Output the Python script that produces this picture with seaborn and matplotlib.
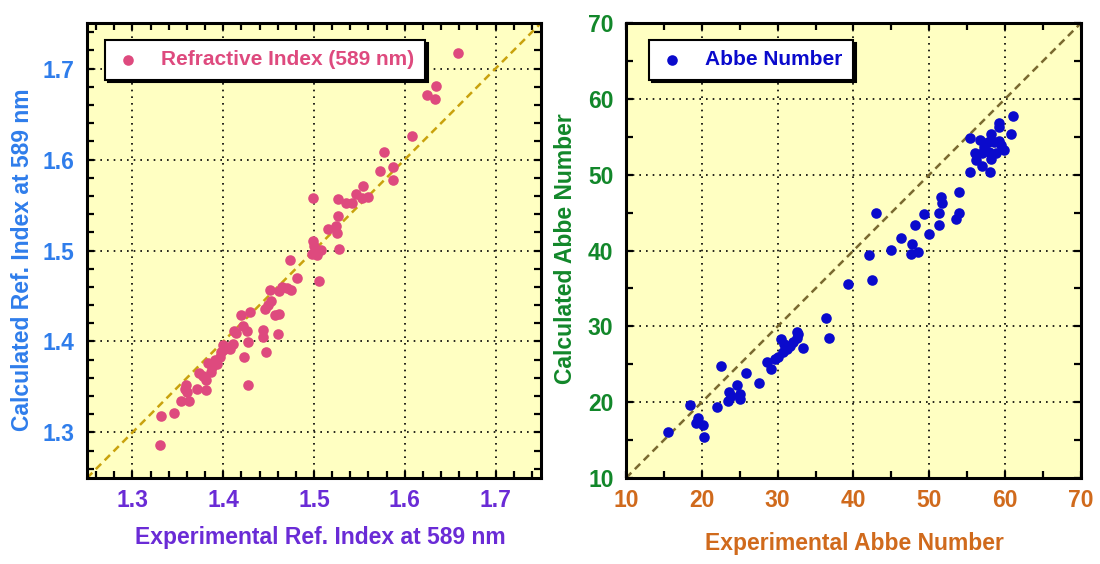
import numpy as np
import pandas as pd
import seaborn as sns
import matplotlib.pyplot as plt
from matplotlib.ticker import MultipleLocator

# 折射率 (589 nm): 实验值 / 计算值
ri_exp = [1.330, 1.332, 1.346, 1.353, 1.362, 1.358, 1.359, 1.360, 1.371, 1.381,
          1.373, 1.378, 1.381, 1.387, 1.383, 1.388, 1.391, 1.393, 1.396, 1.398,
          1.400, 1.400, 1.403, 1.406, 1.411, 1.408, 1.412, 1.414, 1.422, 1.426,
          1.420, 1.430, 1.427, 1.423, 1.427, 1.444, 1.444, 1.447, 1.460, 1.457,
          1.461, 1.446, 1.449, 1.453, 1.452, 1.461, 1.465, 1.470, 1.475, 1.481,
          1.474, 1.506, 1.498, 1.503, 1.499, 1.500, 1.508, 1.528, 1.525, 1.515,
          1.524, 1.526, 1.499, 1.526, 1.535, 1.542, 1.546, 1.553, 1.560, 1.554,
          1.573, 1.587, 1.587, 1.577, 1.608, 1.624, 1.633, 1.634, 1.659]
ri_calc = [1.286, 1.318, 1.321, 1.335, 1.335, 1.348, 1.352, 1.345, 1.348, 1.347,
           1.365, 1.362, 1.358, 1.367, 1.376, 1.372, 1.380, 1.375, 1.383, 1.388,
           1.391, 1.396, 1.393, 1.394, 1.397, 1.392, 1.411, 1.409, 1.417, 1.411,
           1.429, 1.432, 1.399, 1.383, 1.352, 1.413, 1.405, 1.388, 1.408, 1.429,
           1.430, 1.436, 1.440, 1.444, 1.457, 1.455, 1.460, 1.459, 1.457, 1.470,
           1.490, 1.467, 1.496, 1.495, 1.510, 1.505, 1.501, 1.502, 1.519, 1.524,
           1.527, 1.538, 1.558, 1.557, 1.552, 1.552, 1.562, 1.558, 1.559, 1.571,
           1.587, 1.578, 1.592, 1.608, 1.626, 1.671, 1.667, 1.681, 1.717]

# 阿贝数: 实验值 / 计算值
abbe_exp = [15.6, 18.4, 19.5, 19.2, 20.2, 20.3, 22.0, 22.5, 23.6, 23.5,
            23.8, 24.7, 25.0, 25.0, 25.8, 27.5, 28.6, 29.1, 29.6, 30.0,
            30.7, 30.5, 30.9, 31.2, 31.6, 32.0, 32.5, 32.5, 32.7, 33.4,
            36.4, 36.8, 39.3, 42.5, 42.1, 43.0, 44.9, 46.3, 47.7, 47.6,
            48.5, 48.1, 49.3, 50.0, 51.3, 51.3, 51.7, 51.6, 53.5, 53.9,
            53.9, 55.4, 58.0, 57.0, 56.1, 58.2, 56.0, 57.0, 57.9, 58.8,
            59.9, 57.2, 59.4, 57.7, 58.5, 59.2, 56.7, 55.4, 58.2, 60.8,
            59.2, 59.2, 61.1]
abbe_calc = [16.0, 19.6, 17.9, 17.2, 17.0, 15.4, 19.3, 24.8, 21.4, 20.1,
             20.8, 22.3, 21.1, 20.4, 23.9, 22.5, 25.3, 24.4, 25.7, 25.9,
             26.6, 28.3, 27.7, 27.0, 27.4, 27.9, 28.5, 29.2, 29.0, 27.1,
             31.1, 28.5, 35.6, 36.1, 39.4, 44.9, 40.1, 41.7, 40.8, 39.6,
             39.8, 43.3, 44.8, 42.2, 43.3, 45.0, 46.3, 47.0, 44.2, 44.9,
             47.7, 50.4, 50.4, 51.2, 51.9, 52.1, 52.9, 52.8, 53.0, 52.8,
             53.3, 53.6, 53.9, 54.3, 54.3, 54.5, 54.6, 54.9, 55.4, 55.4,
             56.3, 56.8, 57.7]

RI_LIM = [1.25, 1.75]
RI_TICKS = [1.3, 1.4, 1.5, 1.6, 1.7]
ABBE_LIM = [10, 70]
ABBE_TICKS = [10, 20, 30, 40, 50, 60, 70]

BG = '#FFFFC2'

sns.set_style("ticks")
plt.rcParams['font.family'] = ['Liberation Sans', 'DejaVu Sans']
plt.rcParams['font.weight'] = 'bold'
plt.rcParams['axes.labelweight'] = 'bold'


def style_axes(ax, lim, ticks, minor, xcolor, ycolor, xlabel, ylabel, xpos, ypos):
    ax.set_facecolor(BG)
    ax.set_xlim(lim)
    ax.set_ylim(lim)
    ax.set_xticks(ticks)
    ax.set_yticks(ticks)
    ax.xaxis.set_minor_locator(MultipleLocator(minor))
    ax.yaxis.set_minor_locator(MultipleLocator(minor))
    ax.tick_params(which='both', direction='in', top=True, right=True,
                   length=5, width=1.6, color='black')
    ax.tick_params(axis='x', labelsize=16.5, labelcolor=xcolor, pad=8)
    ax.tick_params(axis='y', labelsize=16.5, labelcolor=ycolor, pad=9)
    for s in ax.spines.values():
        s.set_linewidth(2.2)
        s.set_color('black')
    ax.grid(True, which='major', color='black', linestyle=(0, (1, 3)), linewidth=1.2)
    ax.set_axisbelow(True)
    ax.set_xlabel(xlabel, fontsize=16.5, color=xcolor, va='center')
    ax.set_ylabel(ylabel, fontsize=16.5, color=ycolor, va='center')
    ax.xaxis.set_label_coords(*xpos)
    ax.yaxis.set_label_coords(*ypos)


def add_legend(ax, x0, color):
    leg = ax.legend(loc='upper left', bbox_to_anchor=(x0, 0.963), borderaxespad=0,
                    frameon=True, fancybox=False, edgecolor='black', framealpha=1,
                    shadow={'color': 'black', 'alpha': 1}, handlelength=1.2,
                    handletextpad=1.0, borderpad=0.5, labelcolor=color,
                    prop={'size': 15, 'weight': 'bold'})
    leg.get_frame().set_linewidth(1.5)


fig = plt.figure(figsize=(11, 5.64), dpi=100)
ax1 = fig.add_axes([0.0791, 0.1525, 0.4127, 0.8067])
ax2 = fig.add_axes([0.5691, 0.1525, 0.4136, 0.8067])

# 左图: 折射率
df1 = pd.DataFrame({'exp': ri_exp, 'calc': ri_calc})
ax1.axline((RI_LIM[0], RI_LIM[0]), slope=1, color='#C9A20E', linestyle=(0, (3, 2)),
           linewidth=1.8, zorder=2)
sns.scatterplot(data=df1, x='exp', y='calc', ax=ax1, color='#DE4A7E', s=58,
                linewidth=0, label='Refractive Index (589 nm)', zorder=3)
style_axes(ax1, RI_LIM, RI_TICKS, 0.02, '#6A2BD6', '#2F7DEB',
           'Experimental Ref. Index at 589 nm', 'Calculated Ref. Index at 589 nm',
           (0.515, -0.130), (-0.143, 0.479))
add_legend(ax1, 0.04, '#DE4A7E')

# 右图: 阿贝数
df2 = pd.DataFrame({'exp': abbe_exp, 'calc': abbe_calc})
ax2.axline((ABBE_LIM[0], ABBE_LIM[0]), slope=1, color='#7A6A30', linestyle=(0, (3, 2)),
           linewidth=1.8, zorder=2)
sns.scatterplot(data=df2, x='exp', y='calc', ax=ax2, color='#0A0ACC', s=58,
                linewidth=0, label='Abbe Number', zorder=3)
style_axes(ax2, ABBE_LIM, ABBE_TICKS, 5, '#D06A1C', '#12872A',
           'Experimental Abbe Number', 'Calculated Abbe Number',
           (0.503, -0.143), (-0.134, 0.505))
add_legend(ax2, 0.05, '#0A0ACC')

fig.savefig('out.png', dpi=100, facecolor='white')
